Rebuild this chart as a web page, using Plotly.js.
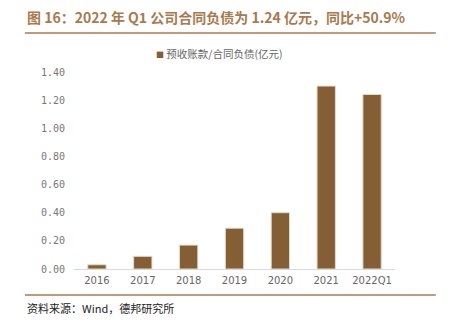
<!DOCTYPE html>
<html>
<head>
<meta charset="utf-8">
<script src="https://cdn.plot.ly/plotly-3.0.1.min.js"></script>
<style>html,body{margin:0;padding:0;background:#fff;}#chart{width:449px;height:324px;}</style>
</head>
<body>
<div id="chart"></div>
<script>
const categories = ["2016", "2017", "2018", "2019", "2020", "2021", "2022Q1"];
const values = [0.03, 0.09, 0.17, 0.29, 0.40, 1.30, 1.24];
const seriesName = "预收账款/合同负债(亿元)";
const yTicks = [0, 0.2, 0.4, 0.6, 0.8, 1.0, 1.2, 1.4];
const yTickLabels = ["0.00", "0.20", "0.40", "0.60", "0.80", "1.00", "1.20", "1.40"];

const brown = "#845f36";
const titleColor = "#a87a4e";

const data = [{
  type: "bar",
  x: categories,
  y: values,
  name: seriesName,
  marker: { color: brown, line: { color: "#e6d9c6", width: 1 } },
  showlegend: false
}];

const layout = {
  width: 449, height: 324,
  margin: { l: 74, r: 54, t: 72, b: 55 },
  paper_bgcolor: "#fff", plot_bgcolor: "#fff",
  bargap: 0.6,
  font: { family: "Noto Sans CJK SC, sans-serif", color: "#666", size: 10 },
  xaxis: {
    type: "category",
    showgrid: false, zeroline: false,
    showline: true, linecolor: "#d9d9d9", linewidth: 1,
    ticks: "", tickfont: { size: 10, color: "#666", family: "DejaVu Sans, sans-serif" },
    ticklabelstandoff: 2
  },
  yaxis: {
    range: [0, 1.4],
    tickvals: yTicks, ticktext: yTickLabels,
    showgrid: false, zeroline: false, showline: false,
    ticks: "", tickfont: { size: 10, color: "#777", family: "DejaVu Sans Mono, monospace" },
    ticklabelstandoff: 8
  },
  annotations: [
    {
      xref: "paper", yref: "paper", x: -0.153, y: 1.279, xanchor: "left", yanchor: "middle",
      showarrow: false,
      text: "<b>图 16：2022 年 Q1 公司合同负债为 1.24 亿元，同比+50.9%</b>",
      font: { size: 14, color: titleColor, family: "Noto Sans CJK SC, sans-serif" }
    },
    {
      xref: "paper", yref: "paper", x: 0.25, y: 1.096, xanchor: "left", yanchor: "middle",
      showarrow: false,
      text: "<span style='color:" + brown + ";font-size:8px'>■</span> " + seriesName,
      font: { size: 10.5, color: "#666", family: "Noto Sans CJK SC, sans-serif" }
    },
    {
      xref: "paper", yref: "paper", x: -0.153, y: -0.198, xanchor: "left", yanchor: "middle",
      showarrow: false,
      text: "资料来源：Wind，德邦研究所",
      font: { size: 11, color: "#222", family: "Noto Sans CJK SC, sans-serif" }
    }
  ],
  shapes: [
    { type: "line", xref: "paper", yref: "paper", x0: -0.153, x1: 1.127, y0: 1.198, y1: 1.198,
      line: { color: "#a87a4e", width: 1.5 } },
    { type: "line", xref: "paper", yref: "paper", x0: -0.153, x1: 1.127, y0: -0.132, y1: -0.132,
      line: { color: "#a87a4e", width: 1.5 } }
  ]
};

Plotly.newPlot("chart", data, layout, { displayModeBar: false, staticPlot: true });
</script>
</body>
</html>
